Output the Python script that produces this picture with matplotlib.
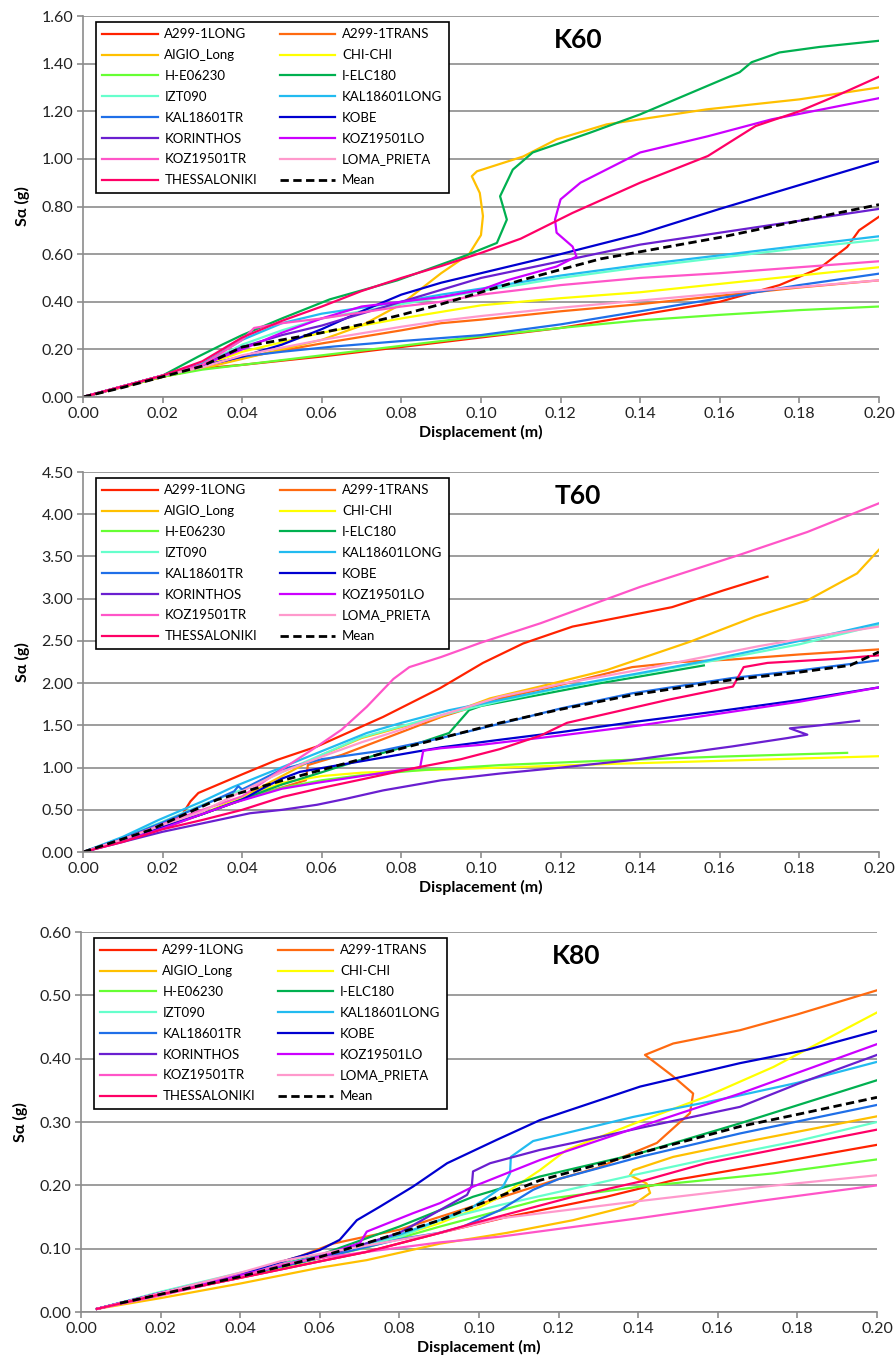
import numpy as np
import matplotlib.pyplot as plt
from matplotlib.ticker import MultipleLocator, FormatStrFormatter

plt.rcParams['font.family'] = ['Lato', 'DejaVu Sans']

names = ["A299-1LONG", "A299-1TRANS", "AIGIO_Long", "CHI-CHI", "H-E06230", "I-ELC180",
         "IZT090", "KAL18601LONG", "KAL18601TR", "KOBE", "KORINTHOS", "KOZ19501LO",
         "KOZ19501TR", "LOMA_PRIETA", "THESSALONIKI"]
colors = ["#ff2200", "#ff6a10", "#ffc000", "#ffff00", "#66ff33", "#00b050",
          "#66ffcc", "#22bbf0", "#1f6fe8", "#0000d0", "#6a1fd0", "#cc00ff",
          "#ff55c8", "#ff99cc", "#ff0066"]

# ---- K60 : (displacement m, Sa g) ----
k60_a299_long = [(0, 0), (0.02, 0.085), (0.03, 0.12), (0.04, 0.135), (0.06, 0.17), (0.08, 0.21), (0.10, 0.25),
                 (0.12, 0.29), (0.14, 0.345), (0.16, 0.40), (0.175, 0.47), (0.185, 0.54), (0.192, 0.63),
                 (0.195, 0.70), (0.20, 0.757)]
k60_a299_trans = [(0, 0), (0.02, 0.085), (0.03, 0.12), (0.04, 0.165), (0.06, 0.225), (0.08, 0.28), (0.09, 0.31),
                  (0.10, 0.325), (0.12, 0.36), (0.14, 0.39), (0.16, 0.425), (0.18, 0.46), (0.20, 0.49)]
k60_aigio = [(0, 0), (0.02, 0.085), (0.03, 0.12), (0.04, 0.16), (0.05, 0.2), (0.06, 0.24), (0.07, 0.30),
             (0.08, 0.39), (0.09, 0.52), (0.097, 0.6), (0.1, 0.68), (0.1005, 0.76), (0.0997, 0.857),
             (0.0977, 0.927), (0.099, 0.948), (0.1106, 1.01), (0.119, 1.082), (0.1316, 1.145),
             (0.1567, 1.208), (0.18, 1.25), (0.20, 1.30)]
k60_chichi = [(0, 0), (0.02, 0.09), (0.03, 0.13), (0.04, 0.19), (0.06, 0.27), (0.08, 0.33), (0.10, 0.385),
              (0.12, 0.415), (0.14, 0.44), (0.16, 0.475), (0.18, 0.51), (0.20, 0.545)]
k60_he06230 = [(0, 0), (0.02, 0.085), (0.03, 0.115), (0.04, 0.135), (0.06, 0.175), (0.08, 0.215), (0.09, 0.235),
               (0.10, 0.255), (0.12, 0.29), (0.14, 0.322), (0.16, 0.345), (0.18, 0.365), (0.20, 0.38)]
k60_ielc180 = [(0, 0), (0.02, 0.09), (0.029, 0.17), (0.035, 0.22), (0.04, 0.26), (0.05, 0.33), (0.062, 0.41),
               (0.079, 0.49), (0.0955, 0.59), (0.104, 0.647), (0.1065, 0.745), (0.1048, 0.843),
               (0.108, 0.955), (0.113, 1.027), (0.1274, 1.11), (0.14, 1.187), (0.165, 1.364),
               (0.168, 1.406), (0.175, 1.447), (0.185, 1.47), (0.20, 1.496)]
k60_izt090 = [(0, 0), (0.02, 0.09), (0.03, 0.135), (0.04, 0.22), (0.05, 0.28), (0.06, 0.33), (0.08, 0.39),
              (0.10, 0.445), (0.12, 0.50), (0.14, 0.545), (0.16, 0.585), (0.18, 0.625), (0.20, 0.66)]
k60_kal_long = [(0, 0), (0.02, 0.09), (0.03, 0.14), (0.04, 0.24), (0.05, 0.31), (0.06, 0.35), (0.07, 0.375),
                (0.08, 0.40), (0.09, 0.43), (0.10, 0.455), (0.12, 0.51), (0.14, 0.555), (0.16, 0.595),
                (0.18, 0.635), (0.20, 0.675)]
k60_kal_tr = [(0, 0), (0.02, 0.09), (0.03, 0.13), (0.04, 0.17), (0.05, 0.19), (0.063, 0.212), (0.08, 0.235),
              (0.10, 0.26), (0.12, 0.305), (0.14, 0.36), (0.16, 0.415), (0.18, 0.47), (0.20, 0.518)]
k60_kobe = [(0, 0), (0.02, 0.09), (0.03, 0.13), (0.04, 0.17), (0.05, 0.22), (0.06, 0.285), (0.07, 0.36),
            (0.08, 0.43), (0.09, 0.48), (0.10, 0.52), (0.12, 0.60), (0.14, 0.685), (0.16, 0.79),
            (0.18, 0.89), (0.20, 0.99)]
k60_korinthos = [(0, 0), (0.02, 0.09), (0.03, 0.135), (0.04, 0.21), (0.05, 0.26), (0.06, 0.30), (0.07, 0.35),
                 (0.08, 0.40), (0.09, 0.45), (0.10, 0.50), (0.12, 0.57), (0.14, 0.64), (0.16, 0.69),
                 (0.18, 0.74), (0.20, 0.79)]
k60_koz_lo = [(0, 0), (0.02, 0.09), (0.03, 0.135), (0.04, 0.2), (0.05, 0.27), (0.06, 0.33), (0.07, 0.38),
              (0.08, 0.40), (0.09, 0.42), (0.10, 0.45), (0.1065, 0.49), (0.119, 0.548), (0.124, 0.59),
              (0.123, 0.632), (0.119, 0.69), (0.1186, 0.745), (0.12, 0.83), (0.125, 0.9), (0.14, 1.027),
              (0.157, 1.095), (0.173, 1.166), (0.20, 1.255)]
k60_koz_tr = [(0, 0), (0.02, 0.09), (0.03, 0.135), (0.04, 0.24), (0.043, 0.29), (0.05, 0.31), (0.06, 0.33),
              (0.07, 0.355), (0.08, 0.38), (0.09, 0.40), (0.10, 0.43), (0.12, 0.47), (0.14, 0.50),
              (0.16, 0.52), (0.18, 0.545), (0.20, 0.57)]
k60_loma = [(0, 0), (0.02, 0.09), (0.03, 0.125), (0.04, 0.175), (0.06, 0.24), (0.08, 0.295), (0.09, 0.32),
            (0.10, 0.34), (0.12, 0.375), (0.14, 0.405), (0.16, 0.435), (0.18, 0.462), (0.20, 0.49)]
k60_thess = [(0, 0), (0.02, 0.09), (0.03, 0.15), (0.04, 0.25), (0.05, 0.32), (0.06, 0.38), (0.07, 0.445),
             (0.08, 0.50), (0.09, 0.55), (0.10, 0.605), (0.11, 0.665), (0.123, 0.773), (0.14, 0.9),
             (0.157, 1.012), (0.169, 1.138), (0.18, 1.2), (0.19, 1.27), (0.20, 1.345)]
k60_mean = [(0, 0), (0.01, 0.04), (0.02, 0.085), (0.03, 0.13), (0.04, 0.21), (0.05, 0.24), (0.06, 0.27),
            (0.07, 0.305), (0.08, 0.345), (0.09, 0.39), (0.10, 0.44), (0.11, 0.49), (0.12, 0.535),
            (0.13, 0.58), (0.14, 0.61), (0.16, 0.67), (0.18, 0.74), (0.20, 0.808)]

# ---- T60 ----
t60_a299_long = [(0, 0), (0.01, 0.14), (0.02, 0.32), (0.025, 0.45), (0.027, 0.6), (0.029, 0.70), (0.035, 0.82),
                 (0.04, 0.92), (0.0487, 1.09), (0.0588, 1.25), (0.0754, 1.60), (0.0897, 1.94),
                 (0.1005, 2.24), (0.1106, 2.47), (0.123, 2.67), (0.148, 2.90), (0.161, 3.1), (0.172, 3.26)]
t60_a299_trans = [(0, 0), (0.01, 0.13), (0.02, 0.28), (0.03, 0.45), (0.042, 0.65), (0.056, 0.85),
                  (0.0565, 1.03), (0.065, 1.15), (0.075, 1.33), (0.09, 1.6), (0.105, 1.82), (0.12, 1.98),
                  (0.138, 2.19), (0.15, 2.25), (0.163, 2.28), (0.18, 2.34), (0.20, 2.40)]
t60_aigio = [(0, 0), (0.02, 0.3), (0.03, 0.45), (0.04, 0.65), (0.05, 0.9), (0.06, 1.15), (0.07, 1.35),
             (0.08, 1.48), (0.0897, 1.60), (0.1023, 1.82), (0.1148, 1.96), (0.1316, 2.155), (0.1525, 2.49),
             (0.169, 2.79), (0.182, 2.98), (0.1945, 3.30), (0.20, 3.58)]
t60_chichi = [(0, 0), (0.01, 0.14), (0.02, 0.3), (0.03, 0.45), (0.04, 0.65), (0.05, 0.82), (0.06, 0.9),
              (0.07, 0.94), (0.085, 0.97), (0.1048, 1.0), (0.13, 1.04), (0.16, 1.08), (0.20, 1.135)]
t60_he06230 = [(0, 0), (0.01, 0.14), (0.02, 0.3), (0.03, 0.45), (0.04, 0.62), (0.05, 0.76), (0.06, 0.85),
               (0.07, 0.91), (0.085, 0.97), (0.1048, 1.03), (0.13, 1.08), (0.16, 1.13), (0.192, 1.175)]
t60_ielc180 = [(0, 0), (0.01, 0.14), (0.02, 0.3), (0.03, 0.45), (0.042, 0.66), (0.05, 0.80), (0.059, 0.93),
               (0.075, 1.17), (0.085, 1.30), (0.092, 1.41), (0.097, 1.68), (0.10, 1.73), (0.11, 1.82),
               (0.12, 1.91), (0.13, 2.0), (0.14, 2.08), (0.156, 2.21)]
t60_izt090 = [(0, 0), (0.01, 0.17), (0.02, 0.36), (0.03, 0.56), (0.04, 0.74), (0.055, 1.05), (0.07, 1.36),
              (0.09, 1.62), (0.105, 1.79), (0.12, 1.94), (0.14, 2.11), (0.16, 2.28), (0.18, 2.46), (0.20, 2.69)]
t60_kal_long = [(0, 0), (0.01, 0.18), (0.019, 0.38), (0.03, 0.6), (0.0377, 0.77), (0.0545, 1.09),
                (0.0713, 1.41), (0.08, 1.53), (0.092, 1.68), (0.1048, 1.80), (0.12, 1.95), (0.14, 2.12),
                (0.155, 2.25), (0.17, 2.4), (0.185, 2.55), (0.20, 2.71)]
t60_kal_tr = [(0, 0), (0.01, 0.16), (0.02, 0.35), (0.03, 0.55), (0.038, 0.72), (0.039, 0.78), (0.04, 0.74),
              (0.05, 0.98), (0.06, 1.1), (0.075, 1.2), (0.09, 1.35), (0.1048, 1.52), (0.12, 1.7),
              (0.138, 1.88), (0.163, 2.06), (0.18, 2.15), (0.20, 2.27)]
t60_kobe = [(0, 0), (0.01, 0.14), (0.02, 0.3), (0.03, 0.45), (0.04, 0.62), (0.045, 0.75), (0.05, 0.87),
            (0.0545, 0.95), (0.0754, 1.12), (0.09, 1.24), (0.1048, 1.33), (0.12, 1.42), (0.14, 1.55),
            (0.16, 1.67), (0.18, 1.8), (0.20, 1.95)]
t60_korinthos = [(0, 0), (0.01, 0.12), (0.02, 0.24), (0.03, 0.34), (0.042, 0.46), (0.05, 0.5), (0.0588, 0.56),
                 (0.066, 0.63), (0.0754, 0.73), (0.09, 0.85), (0.1048, 0.93), (0.12, 1.0), (0.138, 1.09),
                 (0.163, 1.25), (0.177, 1.35), (0.182, 1.39), (0.1776, 1.465), (0.185, 1.5), (0.195, 1.555)]
t60_koz_lo = [(0, 0), (0.01, 0.13), (0.02, 0.28), (0.03, 0.45), (0.0377, 0.58), (0.05, 0.75), (0.0588, 0.82),
              (0.07, 0.9), (0.08, 0.97), (0.0847, 1.0), (0.0855, 1.2), (0.09, 1.23), (0.10, 1.27),
              (0.12, 1.38), (0.14, 1.5), (0.16, 1.64), (0.18, 1.78), (0.20, 1.95)]
t60_koz_tr = [(0, 0), (0.01, 0.15), (0.02, 0.33), (0.03, 0.5), (0.04, 0.66), (0.045, 0.82), (0.05, 0.98),
              (0.0588, 1.25), (0.065, 1.45), (0.0713, 1.72), (0.078, 2.05), (0.082, 2.19), (0.09, 2.31),
              (0.10, 2.48), (0.115, 2.71), (0.14, 3.14), (0.165, 3.52), (0.182, 3.79), (0.20, 4.13)]
t60_loma = [(0, 0), (0.01, 0.15), (0.02, 0.32), (0.03, 0.48), (0.04, 0.72), (0.05, 0.95), (0.06, 1.13),
            (0.07, 1.30), (0.08, 1.45), (0.09, 1.62), (0.1048, 1.84), (0.12, 1.99), (0.14, 2.16),
            (0.155, 2.30), (0.17, 2.44), (0.185, 2.56), (0.20, 2.67)]
t60_thess = [(0, 0), (0.01, 0.12), (0.02, 0.27), (0.03, 0.38), (0.04, 0.5), (0.0503, 0.655), (0.06, 0.76),
             (0.07, 0.86), (0.0838, 1.0), (0.095, 1.1), (0.1048, 1.22), (0.115, 1.38), (0.1216, 1.53),
             (0.1467, 1.80), (0.1633, 1.96), (0.166, 2.19), (0.172, 2.24), (0.19, 2.29), (0.20, 2.33)]
t60_mean = [(0, 0), (0.0168, 0.26), (0.0337, 0.62), (0.0503, 0.85), (0.0754, 1.17), (0.09, 1.35),
            (0.1048, 1.53), (0.12, 1.69), (0.138, 1.86), (0.163, 2.04), (0.18, 2.13), (0.1927, 2.21),
            (0.20, 2.37)]

# ---- K80 ----
k80_a299_long = [(0.004, 0.005), (0.02, 0.028), (0.04, 0.054), (0.06, 0.08), (0.0718, 0.095), (0.0902, 0.125),
                 (0.107, 0.15), (0.132, 0.182), (0.1488, 0.208), (0.174, 0.235), (0.20, 0.264)]
k80_a299_trans = [(0.004, 0.005), (0.02, 0.03), (0.04, 0.06), (0.055, 0.088), (0.0633, 0.108), (0.07, 0.117),
                  (0.08, 0.13), (0.09, 0.15), (0.10, 0.17), (0.11, 0.19), (0.12, 0.21), (0.13, 0.228),
                  (0.1362, 0.245), (0.1447, 0.267), (0.153, 0.314), (0.1538, 0.345), (0.1488, 0.372),
                  (0.1417, 0.406), (0.1488, 0.424), (0.1656, 0.445), (0.18, 0.47), (0.20, 0.508)]
k80_aigio = [(0.004, 0.005), (0.02, 0.022), (0.04, 0.045), (0.06, 0.07), (0.0718, 0.082), (0.0902, 0.108),
             (0.107, 0.125), (0.1236, 0.145), (0.1387, 0.169), (0.143, 0.188), (0.1421, 0.203),
             (0.1379, 0.216), (0.1387, 0.224), (0.1488, 0.245), (0.1656, 0.267), (0.20, 0.309)]
k80_chichi = [(0.004, 0.005), (0.02, 0.028), (0.04, 0.055), (0.06, 0.085), (0.08, 0.12), (0.09, 0.14),
              (0.10, 0.165), (0.1053, 0.182), (0.1153, 0.224), (0.122, 0.256), (0.14, 0.30), (0.157, 0.34),
              (0.174, 0.387), (0.20, 0.473)]
k80_he06230 = [(0.004, 0.005), (0.02, 0.03), (0.04, 0.057), (0.06, 0.085), (0.0718, 0.102), (0.0902, 0.135),
               (0.1153, 0.177), (0.1405, 0.198), (0.174, 0.219), (0.20, 0.241)]
k80_ielc180 = [(0.004, 0.005), (0.02, 0.03), (0.04, 0.06), (0.06, 0.09), (0.08, 0.135), (0.0985, 0.182),
               (0.1153, 0.214), (0.1405, 0.251), (0.1656, 0.298), (0.20, 0.366)]
k80_izt090 = [(0.004, 0.005), (0.02, 0.032), (0.04, 0.062), (0.06, 0.088), (0.08, 0.118), (0.0902, 0.145),
              (0.1053, 0.169), (0.1387, 0.216), (0.16, 0.245), (0.18, 0.27), (0.20, 0.30)]
k80_kal_long = [(0.004, 0.005), (0.02, 0.03), (0.04, 0.06), (0.06, 0.088), (0.07, 0.105), (0.08, 0.122),
                (0.09, 0.145), (0.0985, 0.166), (0.106, 0.198), (0.1078, 0.219), (0.108, 0.245),
                (0.1136, 0.27), (0.1387, 0.308), (0.164, 0.34), (0.18, 0.362), (0.20, 0.395)]
k80_kal_tr = [(0.004, 0.005), (0.02, 0.03), (0.04, 0.058), (0.06, 0.085), (0.08, 0.115), (0.09, 0.125),
              (0.096, 0.135), (0.1053, 0.161), (0.1136, 0.193), (0.12, 0.21), (0.1405, 0.245),
              (0.1656, 0.282), (0.20, 0.327)]
k80_kobe = [(0.004, 0.005), (0.02, 0.03), (0.04, 0.06), (0.055, 0.088), (0.06, 0.098), (0.065, 0.114),
            (0.0693, 0.145), (0.075, 0.166), (0.0834, 0.198), (0.092, 0.235), (0.1045, 0.272),
            (0.1153, 0.303), (0.1405, 0.356), (0.1656, 0.393), (0.1824, 0.414), (0.20, 0.444)]
k80_korinthos = [(0.004, 0.005), (0.02, 0.03), (0.04, 0.058), (0.06, 0.087), (0.07, 0.105), (0.08, 0.125),
                 (0.0902, 0.161), (0.097, 0.185), (0.0982, 0.2), (0.0985, 0.222), (0.1028, 0.235),
                 (0.1153, 0.256), (0.1236, 0.267), (0.14, 0.29), (0.1656, 0.324), (0.18, 0.36), (0.20, 0.406)]
k80_koz_lo = [(0.004, 0.005), (0.02, 0.03), (0.04, 0.058), (0.06, 0.088), (0.0701, 0.109), (0.0718, 0.127),
              (0.0834, 0.156), (0.0902, 0.172), (0.0985, 0.198), (0.1153, 0.24), (0.1405, 0.293),
              (0.1656, 0.345), (0.20, 0.423)]
k80_koz_tr = [(0.004, 0.005), (0.02, 0.026), (0.04, 0.055), (0.05, 0.075), (0.06, 0.085), (0.0718, 0.095),
              (0.0902, 0.11), (0.1053, 0.119), (0.14, 0.148), (0.17, 0.175), (0.20, 0.20)]
k80_loma = [(0.004, 0.005), (0.02, 0.03), (0.04, 0.062), (0.05, 0.08), (0.06, 0.092), (0.0718, 0.105),
            (0.0902, 0.125), (0.1053, 0.148), (0.14, 0.175), (0.17, 0.197), (0.20, 0.216)]
k80_thess = [(0.004, 0.005), (0.02, 0.028), (0.04, 0.054), (0.06, 0.08), (0.0718, 0.095), (0.0902, 0.125),
             (0.0985, 0.14), (0.1236, 0.182), (0.1405, 0.206), (0.157, 0.235), (0.174, 0.256), (0.20, 0.288)]
k80_mean = [(0.0098, 0.014), (0.02, 0.028), (0.04, 0.056), (0.06, 0.087), (0.0718, 0.109), (0.0902, 0.145),
            (0.10, 0.17), (0.1153, 0.208), (0.1405, 0.251), (0.1656, 0.293), (0.18, 0.312), (0.20, 0.339)]

k60_curves = [k60_a299_long, k60_a299_trans, k60_aigio, k60_chichi, k60_he06230, k60_ielc180, k60_izt090,
              k60_kal_long, k60_kal_tr, k60_kobe, k60_korinthos, k60_koz_lo, k60_koz_tr, k60_loma, k60_thess]
t60_curves = [t60_a299_long, t60_a299_trans, t60_aigio, t60_chichi, t60_he06230, t60_ielc180, t60_izt090,
              t60_kal_long, t60_kal_tr, t60_kobe, t60_korinthos, t60_koz_lo, t60_koz_tr, t60_loma, t60_thess]
k80_curves = [k80_a299_long, k80_a299_trans, k80_aigio, k80_chichi, k80_he06230, k80_ielc180, k80_izt090,
              k80_kal_long, k80_kal_tr, k80_kobe, k80_korinthos, k80_koz_lo, k80_koz_tr, k80_loma, k80_thess]

# title, curves, mean, ymax, ystep, axes rect (figure fraction)
panels = [
    ("K60", k60_curves, k60_mean, 1.6, 0.2, [0.0926, 0.710, 0.8884, 0.2783]),
    ("T60", t60_curves, t60_mean, 4.5, 0.5, [0.0926, 0.3776, 0.8884, 0.2776]),
    ("K80", k80_curves, k80_mean, 0.6, 0.1, [0.0904, 0.0416, 0.8884, 0.2776]),
]

grid_col = "#8c8c8c"
fig = plt.figure(figsize=(8.96, 13.69), dpi=100)

for title, curves, mean, ymax, ystep, rect in panels:
    ax = fig.add_axes(rect)
    handles = []
    for pts, name, col in zip(curves, names, colors):
        xs = [p[0] for p in pts]
        ys = [p[1] for p in pts]
        h, = ax.plot(xs, ys, color=col, lw=1.6, label=name, solid_joinstyle='round')
        handles.append(h)
    hm, = ax.plot([p[0] for p in mean], [p[1] for p in mean], color='black', lw=2.0,
                  ls=(0, (3, 1.6)), label='Mean')
    handles.append(hm)

    ax.set_xlim(0, 0.2)
    ax.set_ylim(0, ymax)
    ax.xaxis.set_major_locator(MultipleLocator(0.02))
    ax.yaxis.set_major_locator(MultipleLocator(ystep))
    ax.xaxis.set_major_formatter(FormatStrFormatter('%.2f'))
    ax.yaxis.set_major_formatter(FormatStrFormatter('%.2f'))
    ax.grid(axis='y', color=grid_col, lw=1.2)
    ax.set_axisbelow(True)
    for s in ['top', 'right']:
        ax.spines[s].set_visible(False)
    for s in ['left', 'bottom']:
        ax.spines[s].set_color(grid_col)
        ax.spines[s].set_linewidth(1.2)
    ax.tick_params(direction='out', length=4, width=1.2, color=grid_col, labelsize=11.5,
                   labelcolor='#222222', pad=3)
    ax.set_xlabel('Displacement (m)', fontsize=11.5, fontweight='bold', labelpad=3)
    ax.set_ylabel('Sα (g)', fontsize=11.5, fontweight='bold', labelpad=8)

    ax.text(0.622, 0.937, title, transform=ax.transAxes, ha='center', va='center',
            fontsize=19, fontweight='bold')

    order = handles[0::2] + handles[1::2]
    leg = ax.legend(handles=order, ncol=2, loc='upper left', bbox_to_anchor=(0.016, 0.985),
                    fontsize=9.5, frameon=True, fancybox=False, edgecolor='black',
                    handlelength=4.2, handletextpad=0.5, columnspacing=1.75, labelspacing=0.67,
                    borderpad=0.5, borderaxespad=0)
    leg.get_frame().set_linewidth(1.2)
    leg.get_frame().set_alpha(1)

fig.savefig('out.png', dpi=100)
